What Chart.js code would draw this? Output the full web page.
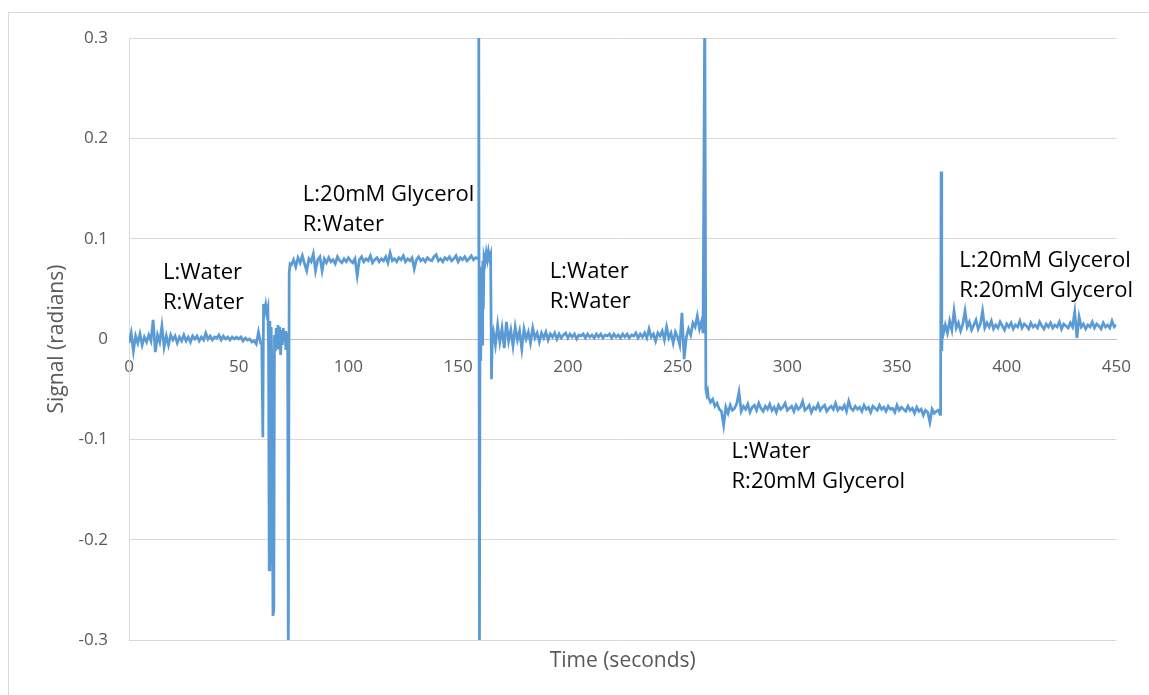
<!DOCTYPE html>
<html>
<head>
<meta charset="utf-8">
<title>Signal vs time</title>
<script src="https://cdn.jsdelivr.net/npm/chart.js@4.4.1/dist/chart.umd.min.js"></script>
<style>
  html, body { margin: 0; padding: 0; background: #fff; }
  canvas { display: block; }
</style>
</head>
<body>
<canvas id="signalChart" width="1149" height="695"></canvas>
<script>
// steady stretches sampled once per second, value in radians
const quiet1 = [
  -0.004, 0.006, -0.012, 0.003, -0.004, 0.005, -0.006, 0.002, -0.003, 0.004,
  -0.002, 0.019, -0.013, 0.004, -0.003, 0.013, -0.008, 0.003, -0.006, 0.004,
  -0.001, 0.003, -0.004, 0.002, -0.002, 0.004, -0.002, 0.002, -0.003, 0.003,
  0.000, 0.003, -0.002, 0.002, -0.001, 0.006, 0.000, 0.003, -0.001, 0.002,
  0.001, 0.004, -0.001, 0.003, 0.000, 0.002, -0.001, 0.002, 0.000, 0.002,
  0.000, 0.002, -0.002, 0.001, -0.001, 0.000, -0.003, -0.002, -0.005, 0.007,
  -0.004
];
const glycerolL = [
  0.074, 0.079, 0.072, 0.081, 0.076, 0.083, 0.075, 0.068, 0.080, 0.077,
  0.085, 0.068, 0.079, 0.082, 0.068, 0.080, 0.076, 0.081, 0.077, 0.079,
  0.075, 0.082, 0.078, 0.076, 0.080, 0.077, 0.081, 0.078, 0.076, 0.080,
  0.063, 0.079, 0.082, 0.077, 0.080, 0.078, 0.083, 0.076, 0.079, 0.081,
  0.077, 0.080, 0.078, 0.082, 0.076, 0.086, 0.078, 0.080, 0.077, 0.081,
  0.079, 0.083, 0.077, 0.080, 0.078, 0.081, 0.070, 0.079, 0.082, 0.078,
  0.080, 0.077, 0.081, 0.079, 0.078, 0.082, 0.084, 0.078, 0.080, 0.077,
  0.081, 0.079, 0.082, 0.078, 0.080, 0.083, 0.077, 0.081, 0.079, 0.082,
  0.078, 0.080, 0.083, 0.079, 0.081, 0.080
];
const quiet2 = [
  0.008, -0.006, 0.014, -0.003, 0.011, -0.009, 0.017, -0.002, 0.009, -0.007,
  0.012, -0.001, 0.008, -0.010, 0.010, 0.000, 0.007, -0.004, 0.011, 0.001,
  0.006, -0.003, 0.006, 0.001, 0.007, -0.001, 0.005, 0.002, 0.006, 0.000,
  0.005, 0.001, 0.004, 0.006, 0.001, 0.005, 0.002, 0.005, 0.000, 0.004,
  0.003, 0.005, 0.001, 0.005, 0.002, 0.004, 0.001, 0.005, 0.002, 0.005,
  0.001, 0.004, 0.003, 0.005, 0.001, 0.005, 0.002, 0.004, 0.001, 0.005,
  0.002, 0.005, 0.001, 0.004, 0.003, 0.006, 0.001, 0.005, 0.002, 0.006,
  0.001, 0.010, 0.002, 0.005, -0.002, 0.006, 0.003, 0.008, -0.001, 0.012,
  0.001, 0.006, -0.004, 0.007, 0.002, -0.006, 0.026, -0.020, 0.002, 0.010,
  0.004, 0.016, 0.012, 0.023, 0.010, 0.018
];
const glycerolR = [
  -0.058, -0.063, -0.060, -0.067, -0.064, -0.070, -0.072, -0.086, -0.068, -0.074,
  -0.066, -0.071, -0.069, -0.064, -0.053, -0.072, -0.067, -0.070, -0.065, -0.073,
  -0.068, -0.066, -0.071, -0.064, -0.069, -0.072, -0.067, -0.070, -0.065, -0.071,
  -0.068, -0.073, -0.066, -0.070, -0.068, -0.064, -0.071, -0.069, -0.067, -0.072,
  -0.066, -0.070, -0.068, -0.062, -0.071, -0.069, -0.066, -0.073, -0.068, -0.070,
  -0.065, -0.071, -0.068, -0.066, -0.072, -0.069, -0.067, -0.070, -0.064, -0.071,
  -0.068, -0.070, -0.066, -0.072, -0.062, -0.069, -0.071, -0.067, -0.070, -0.068,
  -0.072, -0.066, -0.070, -0.068, -0.073, -0.067, -0.069, -0.071, -0.066, -0.070,
  -0.068, -0.072, -0.067, -0.070, -0.069, -0.073, -0.066, -0.071, -0.068, -0.070,
  -0.072, -0.067, -0.071, -0.069, -0.074, -0.068, -0.072, -0.070, -0.076, -0.071,
  -0.073, -0.083, -0.070, -0.074, -0.072, -0.071
];
const glycerolBoth = [
  0.004, 0.014, 0.006, 0.018, 0.009, 0.028, 0.011, 0.016, 0.008, 0.015,
  0.028, 0.012, 0.017, 0.009, 0.014, 0.019, 0.010, 0.015, 0.028, 0.011,
  0.016, 0.012, 0.018, 0.010, 0.014, 0.011, 0.017, 0.013, 0.009, 0.015,
  0.012, 0.016, 0.010, 0.014, 0.012, 0.018, 0.011, 0.015, 0.013, 0.010,
  0.016, 0.012, 0.014, 0.011, 0.017, 0.013, 0.010, 0.015, 0.012, 0.016,
  0.011, 0.014, 0.012, 0.017, 0.010, 0.015, 0.013, 0.011, 0.016, 0.012,
  0.027, 0.001, 0.022, 0.012, 0.015, 0.010, 0.014, 0.012, 0.017, 0.011,
  0.015, 0.013, 0.010, 0.016, 0.012, 0.014, 0.011, 0.018, 0.012, 0.014
];

// fast transients while the solutions are switched: [seconds, radians]
const switch1 = [
  [60.5, -0.004], [61.0, -0.098], [61.3, 0.035], [61.8, 0.027], [62.3, 0.034], [62.8, 0.026],
  [63.3, 0.031], [63.6, -0.015], [63.9, -0.230], [64.2, 0.018], [64.5, -0.225], [64.8, 0.012],
  [65.2, -0.040], [65.6, -0.276], [66.0, -0.270], [66.3, 0.004], [66.7, -0.012], [67.1, 0.011],
  [67.5, -0.009], [67.9, 0.014], [68.3, -0.004], [68.7, 0.012], [69.1, -0.016], [69.5, 0.009],
  [69.9, -0.006], [70.3, 0.011], [70.7, -0.002], [71.1, 0.008], [71.5, -0.011], [71.9, 0.006],
  [72.3, -0.008], [72.6, -0.330], [73.0, 0.066], [73.4, 0.075]
];
const switch2 = [
  [159.3, 0.080], [159.4, 0.340], [159.7, -0.340], [160.0, 0.058], [160.3, -0.022], [160.6, 0.072],
  [160.9, -0.005], [161.2, 0.078], [161.5, 0.030], [161.8, 0.082], [162.3, 0.077], [162.8, 0.086],
  [163.3, 0.079], [163.8, 0.087], [164.3, 0.080], [164.8, 0.084], [165.2, -0.040], [165.6, 0.004]
];
const switch3 = [
  [261.6, 0.006], [262.4, 0.340], [262.9, -0.050], [263.3, -0.055], [263.7, -0.052]
];
const switch4 = [
  [369.6, -0.075], [369.9, -0.040], [370.1, 0.167], [370.4, -0.012], [370.7, 0.014]
];

const xTicks = [0, 50, 100, 150, 200, 250, 300, 350, 400, 450];
const yTicks = [-0.3, -0.2, -0.1, 0, 0.1, 0.2, 0.3];

// solution labels, anchored at [seconds, radians] of their first line
const notes = [
  { at: [15.5, 0.066], lines: ['L:Water', 'R:Water'] },
  { at: [79.2, 0.144], lines: ['L:20mM Glycerol', 'R:Water'] },
  { at: [191.7, 0.067], lines: ['L:Water', 'R:Water'] },
  { at: [274.6, -0.112], lines: ['L:Water', 'R:20mM Glycerol'] },
  { at: [378.4, 0.078], lines: ['L:20mM Glycerol', 'R:20mM Glycerol'] }
];

const points = [];
const addRun = (start, values) => values.forEach((v, i) => points.push({ x: start + i, y: v }));
const addPairs = pairs => pairs.forEach(([x, y]) => points.push({ x, y }));
addRun(0, quiet1);
addPairs(switch1);
addRun(74, glycerolL);
addPairs(switch2);
addRun(166, quiet2);
addPairs(switch3);
addRun(264, glycerolR);
addPairs(switch4);
addRun(371, glycerolBoth);

const FAMILY = '"Open Sans", sans-serif';
const TICK_FONT = { family: FAMILY, size: 17 };
const TITLE_FONT = { family: FAMILY, size: 21 };
const GREY = '#595959';

const frame = {
  id: 'frame',
  beforeDraw(chart) {
    const ctx = chart.ctx;
    ctx.save();
    ctx.fillStyle = '#fff';
    ctx.fillRect(0, 0, chart.width, chart.height);
    ctx.strokeStyle = '#d9d9d9';
    ctx.lineWidth = 1;
    ctx.strokeRect(8.5, 12.5, chart.width + 20, chart.height + 20);
    ctx.restore();
  }
};

const labels = {
  id: 'labels',
  afterDatasetsDraw(chart) {
    const { ctx, chartArea, scales: { x, y } } = chart;
    ctx.save();
    ctx.textBaseline = 'middle';
    ctx.fillStyle = GREY;
    ctx.font = '21px ' + FAMILY;
    ctx.textAlign = 'center';
    ctx.fillText('Time (seconds)', (chartArea.left + chartArea.right) / 2, chartArea.bottom + 21);
    ctx.fillStyle = '#000';
    ctx.font = '22px ' + FAMILY;
    ctx.textAlign = 'left';
    notes.forEach(n => {
      const px = x.getPixelForValue(n.at[0]);
      const py = y.getPixelForValue(n.at[1]);
      n.lines.forEach((t, i) => ctx.fillText(t, px, py + i * 30));
    });
    ctx.restore();
  }
};

new Chart(document.getElementById('signalChart'), {
  type: 'line',
  data: {
    datasets: [{
      data: points,
      borderColor: '#5b9bd5',
      borderWidth: 2.75,
      pointRadius: 0,
      tension: 0
    }]
  },
  options: {
    responsive: false,
    animation: false,
    devicePixelRatio: 1,
    layout: { padding: { left: 40, top: 38, right: 32, bottom: 55 } },
    plugins: { legend: { display: false }, tooltip: { enabled: false } },
    scales: {
      x: {
        type: 'linear',
        position: { y: 0 },
        min: 0,
        max: 450,
        afterFit: s => { s.height = 0; },
        afterBuildTicks: s => { s.ticks = xTicks.map(v => ({ value: v })); },
        grid: { display: false, drawTicks: false },
        border: { display: true, color: '#bfbfbf', width: 1 },
        ticks: { font: TICK_FONT, color: GREY, padding: 18, maxRotation: 0 }
      },
      y: {
        type: 'linear',
        min: -0.3,
        max: 0.3,
        afterFit: s => { s.width = 89; },
        afterBuildTicks: s => { s.ticks = yTicks.map(v => ({ value: v })); },
        grid: { color: '#d9d9d9', drawTicks: false },
        border: { display: true, color: '#d9d9d9' },
        ticks: {
          font: TICK_FONT,
          color: GREY,
          padding: 21,
          callback: v => String(+v.toFixed(1))
        },
        title: { display: true, text: 'Signal (radians)', font: TITLE_FONT, color: GREY }
      }
    }
  },
  plugins: [frame, labels]
});
</script>
</body>
</html>
